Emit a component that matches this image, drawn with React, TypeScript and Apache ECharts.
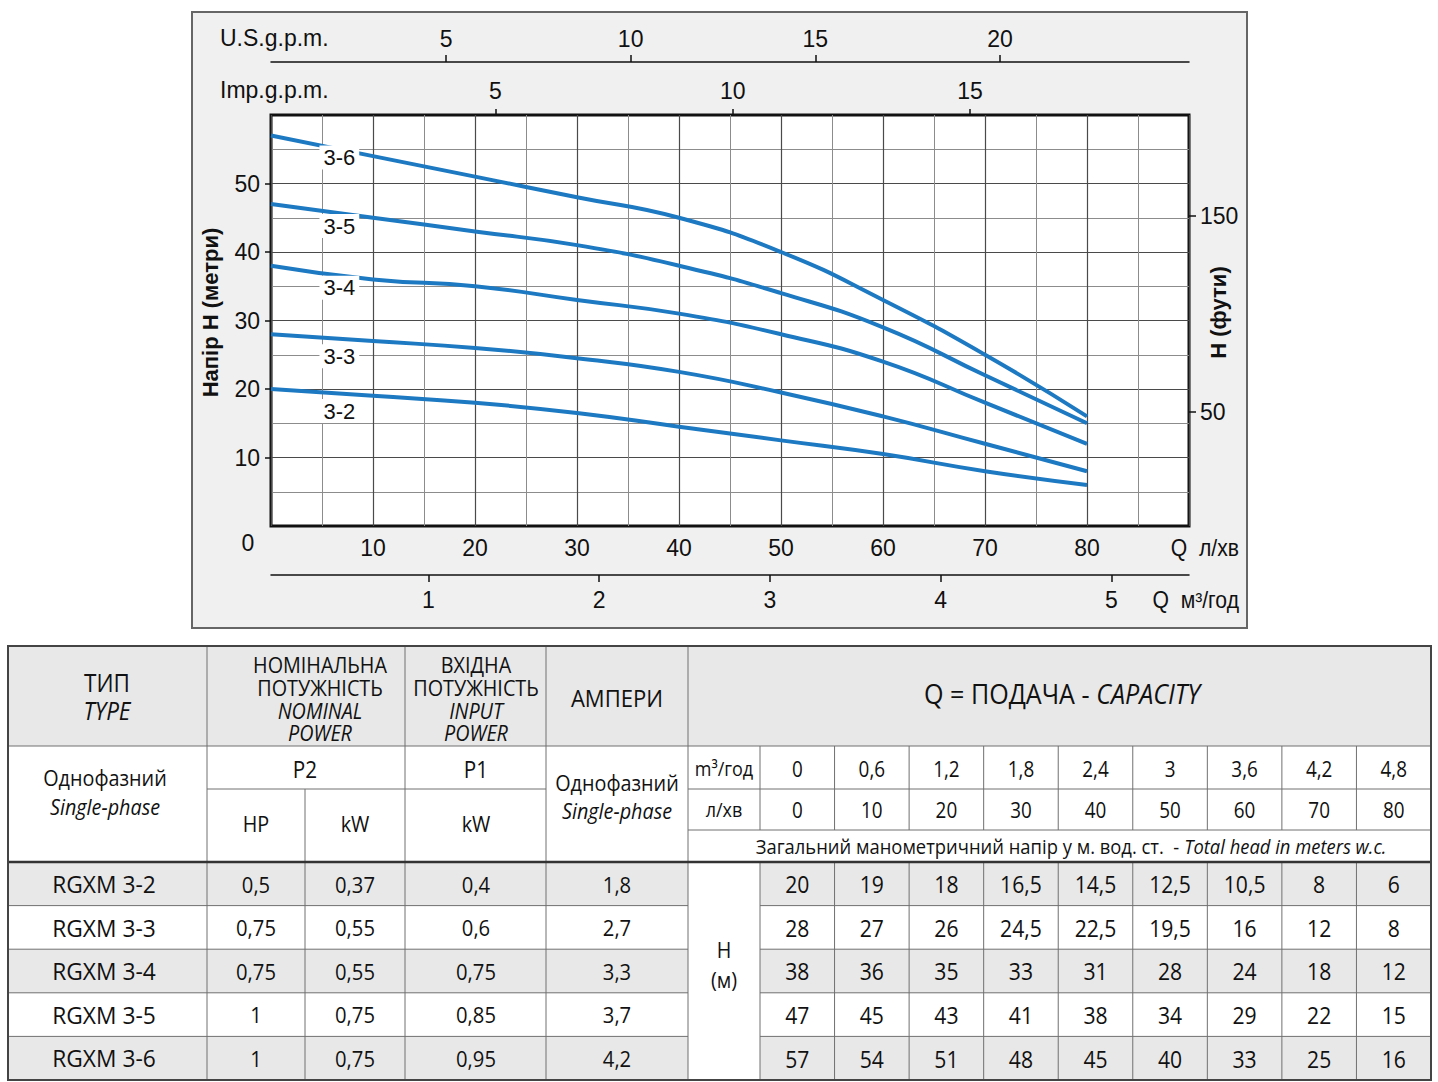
import { useEffect, useRef } from "react";
import * as echarts from "echarts";

// Duty points: flow in l/min and the same flows in m³/h
const flowLpm = [0, 10, 20, 30, 40, 50, 60, 70, 80];
const flowM3h = [0, 0.6, 1.2, 1.8, 2.4, 3, 3.6, 4.2, 4.8];

// Pump models
const modelNames = ["3-2", "3-3", "3-4", "3-5", "3-6"];
const typeNames = ["RGXM 3-2", "RGXM 3-3", "RGXM 3-4", "RGXM 3-5", "RGXM 3-6"];
const nominalHp = [0.5, 0.75, 0.75, 1, 1];
const nominalKw = [0.37, 0.55, 0.55, 0.75, 0.75];
const inputKw = [0.4, 0.6, 0.75, 0.85, 0.95];
const amperes = [1.8, 2.7, 3.3, 3.7, 4.2];

// Total head (m) at each flow point
const head32 = [20, 19, 18, 16.5, 14.5, 12.5, 10.5, 8, 6];
const head33 = [28, 27, 26, 24.5, 22.5, 19.5, 16, 12, 8];
const head34 = [38, 36, 35, 33, 31, 28, 24, 18, 12];
const head35 = [47, 45, 43, 41, 38, 34, 29, 22, 15];
const head36 = [57, 54, 51, 48, 45, 40, 33, 25, 16];
const headTable = [head32, head33, head34, head35, head36];

// Tick values of the auxiliary scales
const metreTicks = [10, 20, 30, 40, 50];
const feetTicks = [50, 150];
const usGpmTicks = [5, 10, 15, 20];
const impGpmTicks = [5, 10, 15];
const m3hTicks = [1, 2, 3, 4, 5];

const chartFont = "'Liberation Sans', Arial, sans-serif";
const tableFont = "'Open Sans', 'Noto Sans', sans-serif";
const ink = "#111";
const curveBlue = "#1c79c2";

const fmt = (v: number) => String(v).replace(".", ",");

function txt(
  x: number,
  y: number,
  text: string,
  size: number,
  opts: { italic?: boolean; rich?: any; align?: string; font?: string; sx?: number; bold?: boolean } = {}
) {
  const align = opts.align || "center";
  return {
    type: "text",
    x,
    y,
    scaleX: opts.sx ?? 0.9,
    silent: true,
    style: {
      text,
      fill: ink,
      fontSize: size,
      fontFamily: opts.font || tableFont,
      fontStyle: opts.italic ? "italic" : "normal",
      fontWeight: opts.bold ? "bold" : "normal",
      align,
      verticalAlign: "middle",
      textAlign: align,
      textVerticalAlign: "middle",
      rich: opts.rich,
    },
  };
}

function buildTable() {
  const els: any[] = [];
  const L = 8;
  const R = 1431;
  const TOP = 646;
  const HEAD = 746;
  const P_ROW = 789;
  const L_ROW = 830;
  const DATA = 862;
  const ROW_H = 43.6;
  const BOTTOM = DATA + ROW_H * typeNames.length;
  const CAP = 760;
  const capW = (R - CAP) / flowLpm.length;
  const capC = (j: number) => CAP + capW * (j + 0.5);
  const grey = "#e8e8e8";
  const rect = (x: number, y: number, w: number, h: number, fill: string) => ({
    type: "rect",
    silent: true,
    shape: { x, y, width: w, height: h },
    style: { fill },
  });
  const line = (x1: number, y1: number, x2: number, y2: number, w = 1, c = "#707070") => ({
    type: "line",
    silent: true,
    shape: { x1, y1, x2, y2 },
    style: { stroke: c, lineWidth: w },
  });

  // cell backgrounds
  els.push(rect(L, TOP, R - L, BOTTOM - TOP, "#ffffff"));
  els.push(rect(L, TOP, R - L, HEAD - TOP, grey));
  typeNames.forEach((_, i) => {
    if (i % 2 === 0) {
      els.push(rect(L, DATA + i * ROW_H, 688 - L, ROW_H, grey));
      els.push(rect(CAP, DATA + i * ROW_H, R - CAP, ROW_H, grey));
    }
  });

  // vertical rules
  [207, 405, 546, 688].forEach((x) => els.push(line(x, TOP, x, BOTTOM)));
  els.push(line(305, P_ROW, 305, BOTTOM));
  for (let j = 0; j < flowLpm.length; j++) {
    const x = CAP + capW * j;
    els.push(line(x, HEAD, x, L_ROW));
    els.push(line(x, DATA, x, BOTTOM));
  }

  // horizontal rules
  els.push(line(L, HEAD, R, HEAD));
  els.push(line(207, P_ROW, 546, P_ROW));
  els.push(line(688, P_ROW, R, P_ROW));
  els.push(line(688, L_ROW, R, L_ROW));
  for (let i = 1; i < typeNames.length; i++) {
    const y = DATA + i * ROW_H;
    els.push(line(L, y, 688, y));
    els.push(line(CAP, y, R, y));
  }
  els.push(line(L, DATA, R, DATA, 2.5, "#333"));
  els.push({
    type: "rect",
    silent: true,
    shape: { x: L, y: TOP, width: R - L, height: BOTTOM - TOP },
    style: { fill: "none", stroke: "#444", lineWidth: 2 },
  });

  // header texts
  els.push(txt(107, 683, "ТИП", 25));
  els.push(txt(107, 711, "TYPE", 25, { italic: true }));
  const nomX = 320;
  els.push(txt(nomX, 665, "НОМІНАЛЬНА", 22));
  els.push(txt(nomX, 688, "ПОТУЖНІСТЬ", 22));
  els.push(txt(nomX, 711, "NOMINAL", 22, { italic: true }));
  els.push(txt(nomX, 733, "POWER", 22, { italic: true }));
  els.push(txt(476, 665, "ВХІДНА", 22));
  els.push(txt(476, 688, "ПОТУЖНІСТЬ", 22));
  els.push(txt(476, 711, "INPUT", 22, { italic: true }));
  els.push(txt(476, 733, "POWER", 22, { italic: true }));
  els.push(txt(617, 698, "АМПЕРИ", 24, { sx: 0.92 }));
  els.push(
    txt(1062, 694, "{n|Q = ПОДАЧА - }{i|CAPACITY}", 27, {
      sx: 0.93,
      rich: {
        n: { fontSize: 27, fontFamily: tableFont, fill: ink },
        i: { fontSize: 27, fontFamily: tableFont, fontStyle: "italic", fill: ink },
      },
    })
  );
  els.push(txt(105, 778, "Однофазний", 22));
  els.push(txt(105, 807, "Single-phase", 22, { italic: true }));
  els.push(txt(305, 769, "P2", 23));
  els.push(txt(476, 769, "P1", 23));
  els.push(txt(256, 824, "HP", 22));
  els.push(txt(355, 824, "kW", 22));
  els.push(txt(476, 824, "kW", 22));
  els.push(txt(617, 783, "Однофазний", 22));
  els.push(txt(617, 811, "Single-phase", 22, { italic: true }));
  els.push(txt(724, 769, "m³/год", 20));
  els.push(txt(724, 810, "л/хв", 20));
  flowLpm.forEach((q, j) => {
    els.push(txt(capC(j), 769, fmt(flowM3h[j]), 21));
    els.push(txt(capC(j), 810, fmt(q), 21));
  });
  els.push(
    txt(1071, 846, "{n|Загальний манометричний напір у м. вод. ст.  - }{i|Total head in meters w.c.}", 20, {
      sx: 0.92,
      rich: {
        n: { fontSize: 20, fontFamily: tableFont, fill: ink },
        i: { fontSize: 20, fontFamily: tableFont, fontStyle: "italic", fill: ink },
      },
    })
  );
  els.push(txt(724, 950, "Н", 22));
  els.push(txt(724, 980, "(м)", 22));

  // body rows
  typeNames.forEach((name, i) => {
    const y = DATA + ROW_H * (i + 0.5);
    els.push(txt(104, y, name, 24, { sx: 0.95 }));
    els.push(txt(256, y, fmt(nominalHp[i]), 22, { sx: 0.92 }));
    els.push(txt(355, y, fmt(nominalKw[i]), 22, { sx: 0.92 }));
    els.push(txt(476, y, fmt(inputKw[i]), 22, { sx: 0.92 }));
    els.push(txt(617, y, fmt(amperes[i]), 22, { sx: 0.92 }));
    headTable[i].forEach((h, j) => els.push(txt(capC(j), y, fmt(h), 23, { sx: 0.92 })));
  });
  return els;
}

function buildChartDecor() {
  const els: any[] = [];
  // light panel behind the diagram
  els.push({
    type: "rect",
    z: -10,
    silent: true,
    shape: { x: 192, y: 12, width: 1055, height: 616 },
    style: { fill: "#f0f0f0", stroke: "#666", lineWidth: 2 },
  });
  els.push(txt(220, 38, "U.S.g.p.m.", 23, { align: "left", font: chartFont, sx: 1 }));
  els.push(txt(220, 90, "Imp.g.p.m.", 23, { align: "left", font: chartFont, sx: 1 }));
  els.push(txt(248, 543, "0", 23, { font: chartFont, sx: 1 }));
  els.push(txt(1239, 548, "Q  л/хв", 23, { align: "right", font: chartFont, sx: 0.92 }));
  els.push(txt(1239, 600, "Q  м³/год", 23, { align: "right", font: chartFont, sx: 0.92 }));
  return els;
}

export default function App() {
  const ref = useRef<HTMLDivElement>(null);

  useEffect(() => {
    document.body.style.margin = "0";
    if (!ref.current) return;
    const chart = echarts.init(ref.current, null, { renderer: "svg" });

    const labelStyle = { fontSize: 23, color: ink, fontFamily: chartFont };
    const tickLine = { color: ink, width: 1.5 };
    const nameStyle = { fontSize: 22, fontWeight: "bold", color: ink, fontFamily: chartFont };

    const option: any = {
      animation: false,
      backgroundColor: "#ffffff",
      textStyle: { fontFamily: chartFont },
      grid: {
        left: 271,
        top: 115,
        width: 918,
        height: 411,
        show: true,
        backgroundColor: "#ffffff",
        borderColor: ink,
        borderWidth: 3,
      },
      xAxis: [
        {
          type: "value",
          position: "bottom",
          min: 0,
          max: 90,
          interval: 10,
          axisLine: { show: false, onZero: false },
          axisTick: { show: false },
          axisLabel: {
            ...labelStyle,
            margin: 10,
            formatter: (v: number) => (v > 0 && v < 90 ? String(v) : ""),
          },
          splitLine: { show: true, lineStyle: { color: "#4a4a4a", width: 1.2 } },
          minorTick: { show: false, splitNumber: 2 },
          minorSplitLine: { show: true, lineStyle: { color: "#8c8c8c", width: 1 } },
        },
        {
          type: "value",
          position: "top",
          offset: 53,
          min: 0.26,
          max: 25.12,
          axisLine: { show: true, onZero: false, lineStyle: tickLine },
          axisTick: { show: true, customValues: usGpmTicks, length: 7, lineStyle: tickLine },
          axisLabel: { ...labelStyle, customValues: usGpmTicks, margin: 12 },
          splitLine: { show: false },
        },
        {
          type: "value",
          position: "top",
          offset: 0,
          min: 0.276,
          max: 19.61,
          axisLine: { show: false, onZero: false },
          axisTick: { show: true, customValues: impGpmTicks, length: 6, lineStyle: tickLine },
          axisLabel: { ...labelStyle, customValues: impGpmTicks, margin: 13 },
          splitLine: { show: false },
        },
        {
          type: "value",
          position: "bottom",
          offset: 49,
          min: 0.078,
          max: 5.455,
          axisLine: { show: true, onZero: false, lineStyle: tickLine },
          axisTick: { show: true, customValues: m3hTicks, length: 7, lineStyle: tickLine },
          axisLabel: { ...labelStyle, customValues: m3hTicks, margin: 13 },
          splitLine: { show: false },
        },
      ],
      yAxis: [
        {
          type: "value",
          position: "left",
          min: 0,
          max: 60,
          interval: 10,
          axisLine: { show: false, onZero: false },
          axisTick: { show: true, customValues: metreTicks, length: 6, lineStyle: tickLine },
          axisLabel: { ...labelStyle, customValues: metreTicks, margin: 11 },
          splitLine: { show: true, lineStyle: { color: "#4a4a4a", width: 1.2 } },
          minorTick: { show: false, splitNumber: 2 },
          minorSplitLine: { show: true, lineStyle: { color: "#8c8c8c", width: 1 } },
          name: "Напір Н (метри)",
          nameLocation: "middle",
          nameGap: 50,
          nameMoveOverlap: false,
          nameTextStyle: { ...nameStyle, padding: [0, 0, 0, 16] },
        },
        {
          type: "value",
          position: "right",
          min: -8.1,
          max: 201.5,
          axisLine: { show: false, onZero: false },
          axisTick: { show: true, customValues: feetTicks, length: 7, lineStyle: tickLine },
          axisLabel: { ...labelStyle, customValues: feetTicks, margin: 11 },
          splitLine: { show: false },
          name: "Н (фути)",
          nameLocation: "middle",
          nameGap: 18,
          nameMoveOverlap: false,
          nameTextStyle: { ...nameStyle, padding: [0, 0, 0, 16] },
        },
      ],
      series: headTable.map((h, i) => ({
        type: "line",
        name: modelNames[i],
        xAxisIndex: 0,
        yAxisIndex: 0,
        smooth: 0.5,
        symbol: "none",
        lineStyle: { color: curveBlue, width: 4 },
        data: flowLpm.map((q, k) => [q, h[k]]),
        markPoint: {
          symbol: "circle",
          symbolSize: 1,
          silent: true,
          itemStyle: { color: "rgba(0,0,0,0)" },
          label: {
            show: true,
            position: "inside",
            offset: [0, 22],
            formatter: () => modelNames[i],
            fontSize: 22,
            color: ink,
            fontFamily: chartFont,
            backgroundColor: "#ffffff",
            padding: [1, 4],
          },
          data: [{ coord: [6.7, h[0]] }],
        },
      })),
      graphic: { elements: [...buildChartDecor(), ...buildTable()] },
    };

    chart.setOption(option);
    return () => chart.dispose();
  }, []);

  return <div ref={ref} style={{ width: 1438, height: 1082 }} />;
}
